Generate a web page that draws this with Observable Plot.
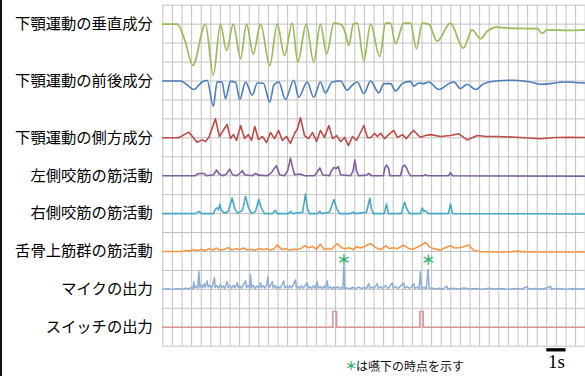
<!DOCTYPE html>
<html><head><meta charset="utf-8">
<script src="https://cdn.jsdelivr.net/npm/d3@7"></script>
<script src="https://cdn.jsdelivr.net/npm/@observablehq/plot@0.6"></script>
<style>
html,body{margin:0;padding:0;background:#fff;}
#wrap{position:relative;width:585px;height:376px;overflow:hidden;}
#edge{position:absolute;left:0;top:0;width:2px;height:376px;background:#111;}
</style></head>
<body><div id="wrap"><div id="edge"></div></div>
<script>
// Row labels and their baseline rows (grid rows from top)
const labels = ["下顎運動の垂直成分","下顎運動の前後成分","下顎運動の側方成分","左側咬筋の筋活動","右側咬筋の筋活動","舌骨上筋群の筋活動","マイクの出力","スイッチの出力"];
const baselines = [1, 4, 7, 9, 11, 13, 15, 17];
const colors = ["#9bbb59","#4a7ebb","#be4b48","#7d60a0","#46aac5","#f79646","#8eadd6","#d99694"];

// [time (s), amplitude (grid rows, up = positive)]
const vertical = [[0,0],[0.75,0],[1.15,-0.86],[1.56,-2.18],[2.22,0],[2.63,-2.69],[3.0,0],[3.32,-1.39],[3.67,0],[4.05,-1.83],[4.36,0],[4.71,-1.57],[5.09,0],[5.57,-2.18],[5.96,0],[6.34,-1.66],[6.74,0.05],[7.03,-2.0],[7.47,0],[7.86,-2.0],[8.21,0],[8.53,-1.57],[8.91,0.05],[9.26,0],[9.52,-0.5],[9.69,-1.13],[9.92,0],[10.13,0.05],[10.47,-1.93],[10.82,0],[11.30,-1.71],[11.6,0.05],[11.86,0.05],[12.12,-1.03],[12.55,0.05],[12.90,0.05],[13.21,-1.29],[13.51,0.05],[13.85,0],[14.29,-0.9],[14.98,0.05],[15.65,-1.27],[16.11,-0.3],[16.55,-0.77],[16.9,-0.37],[17.42,-0.16],[17.85,-0.2],[19.5,-0.24],[19.76,-0.48],[20.02,-0.3],[21.24,-0.33],[22.0,-0.3]];

const anteroposterior = [[0,0],[0.92,0],[1.23,-0.17],[1.61,-0.45],[2.05,-0.05],[2.31,0.04],[2.63,-1.33],[2.83,-0.05],[3.09,-0.05],[3.26,-0.93],[3.53,-0.02],[3.79,-0.07],[4.01,-0.98],[4.31,-0.05],[4.66,-0.75],[4.92,-0.11],[5.24,-0.12],[5.57,-1.12],[5.78,-0.23],[6.04,-0.05],[6.39,-0.98],[6.82,0.04],[7.08,-0.86],[7.52,-0.05],[7.86,-0.86],[8.21,-0.05],[8.47,-0.63],[8.82,-0.05],[9.26,0],[9.6,-0.49],[9.86,-0.23],[10.13,-0.05],[10.47,-0.66],[10.82,0],[11.25,-0.63],[11.51,-0.14],[11.86,-0.14],[12.12,-0.53],[12.47,-0.14],[12.90,-0.02],[13.07,-0.28],[13.33,-0.11],[13.59,-0.14],[13.85,-0.05],[14.38,-0.45],[14.9,-0.14],[15.16,-0.05],[15.5,-0.4],[15.85,-0.17],[16.29,-0.45],[16.72,-0.14],[17.33,0],[18.28,0.04],[19.15,-0.05],[19.67,-0.17],[20.19,-0.14],[20.89,-0.05],[22.0,-0.11]];

const lateral = [[0,0],[0.83,0],[1.35,0.30],[1.79,-0.23],[2.05,-0.11],[2.22,-0.2],[2.40,0.03],[2.74,1.0],[2.95,0.07],[3.11,0.33],[3.35,0.70],[3.53,-0.04],[3.68,0.17],[3.84,-0.14],[4.05,0.65],[4.26,-0.04],[4.46,0.17],[4.62,-0.14],[4.79,0.6],[4.98,-0.09],[5.19,0.07],[5.40,-0.25],[5.61,0.28],[5.82,-0.04],[6.03,0.39],[6.23,-0.14],[6.44,0.07],[6.65,-0.3],[6.86,0.23],[7.02,0.49],[7.17,1.06],[7.38,0.12],[7.59,-0.04],[7.80,0.28],[8.01,-0.2],[8.21,0.39],[8.42,0.02],[8.65,0.65],[8.84,-0.04],[9.05,0.12],[9.26,-0.2],[9.47,0.02],[9.67,-0.41],[9.88,0.07],[10.09,-0.14],[10.30,0.28],[10.47,0.65],[10.66,0.02],[10.82,0],[11.03,0.23],[11.18,0.07],[11.34,0.24],[11.55,-0.04],[11.76,0.17],[12.03,0.39],[12.22,0.02],[12.48,0.17],[12.69,-0.04],[12.90,0.23],[13.07,0.39],[13.26,0.17],[13.42,0.03],[13.68,0.12],[13.94,0.17],[14.46,0.07],[14.98,0.12],[15.42,0.21],[15.85,-0.11],[16.38,0.12],[16.86,0.07],[17.42,0.07],[18.63,0.02],[19.67,-0.05],[20.45,0.02],[21.24,0.03],[22.0,0.02]];

const leftMasseter = [[0,0],[1.70,0],[1.81,0.1],[1.96,0.12],[2.14,0.12],[2.28,0],[2.64,0.05],[2.80,0.3],[2.95,0.08],[3.16,0],[3.32,0.1],[3.48,0.35],[3.63,0.05],[3.84,0],[3.99,0.1],[4.14,0.26],[4.26,0.05],[4.67,0],[4.83,0.12],[4.98,0.03],[5.45,0],[5.66,0.16],[5.78,0.35],[5.92,0.53],[6.08,0.05],[6.34,0],[6.5,0.26],[6.65,0.93],[6.75,0.48],[6.86,0.05],[7.17,0.09],[7.38,0],[7.90,0],[8.05,0.21],[8.18,0.41],[8.32,0.05],[8.68,0],[8.79,0.26],[8.91,0.44],[9.02,0.37],[9.14,0.48],[9.26,0.05],[9.78,0],[9.91,0.26],[10.0,0.83],[10.09,0.26],[10.20,0],[10.61,0.03],[10.73,0.12],[10.87,0],[11.49,0],[11.57,0.42],[11.65,0.56],[11.75,0.42],[11.83,0],[12.38,0],[12.49,0.48],[12.59,0.56],[12.69,0.42],[12.80,0.16],[12.90,0],[13.58,0],[13.68,0.05],[13.79,0],[14.88,0],[14.98,0.16],[15.09,0],[22.0,-0.03]];

const rightMasseter = [[0,0],[1.70,0],[1.88,0.12],[2.02,0],[2.64,0],[2.74,0.23],[2.83,0.3],[2.90,0.2],[2.97,0.48],[3.05,0.17],[3.21,0.02],[3.42,0.12],[3.61,0.82],[3.74,0.28],[3.89,0.02],[4.15,0.17],[4.31,0.91],[4.46,0.33],[4.62,0],[4.83,0.12],[5.0,0.74],[5.14,0.28],[5.30,0],[5.71,0],[5.86,0.17],[5.97,0],[6.55,0],[6.65,0.12],[6.76,0],[7.28,0.07],[7.43,1.03],[7.53,0.28],[7.64,0],[8.05,0],[8.18,0.12],[8.26,0],[8.68,0.07],[8.91,0.74],[9.05,0.28],[9.20,0],[9.78,0],[9.95,0.08],[10.04,0],[10.61,0.07],[10.78,0.82],[10.87,0.23],[10.97,0],[11.54,0],[11.65,0.51],[11.75,0],[12.43,0],[12.59,0.6],[12.72,0.23],[12.85,0],[13.42,0],[13.51,0.3],[13.6,0.12],[13.68,0.15],[13.84,0],[14.88,0],[14.98,0.51],[15.09,0],[22.0,-0.02]];

const suprahyoid = [[0,0],[1.0,0],[1.2,0.05],[1.4,0.02],[1.6,0.1],[1.8,0.04],[2.0,0.12],[2.2,0.05],[2.4,0.15],[2.6,0.08],[2.8,0.18],[3.0,0.06],[3.2,0.12],[3.4,0.2],[3.6,0.08],[3.8,0.14],[4.0,0.1],[4.2,0.18],[4.4,0.08],[4.6,0.12],[4.8,0.06],[5.0,0.16],[5.2,0.1],[5.4,0.14],[5.6,0.08],[5.8,0.15],[5.96,0.35],[6.2,0.1],[6.4,0.14],[6.6,0.08],[6.8,0.12],[7.0,0.1],[7.2,0.16],[7.4,0.3],[7.6,0.2],[7.8,0.26],[8.0,0.12],[8.21,0.39],[8.4,0.1],[8.6,0.16],[8.8,0.12],[9.08,0.42],[9.3,0.2],[9.5,0.14],[9.7,0.2],[9.9,0.1],[10.1,0.25],[10.3,0.18],[10.5,0.26],[10.82,0.42],[11.1,0.2],[11.34,0.1],[11.6,0.3],[11.8,0.16],[12.0,0.2],[12.2,0.14],[12.55,0.34],[12.8,0.16],[13.0,0.12],[13.2,0.2],[13.4,0.3],[13.68,0.48],[13.9,0.24],[14.1,0.15],[14.46,0.07],[14.7,0.2],[14.98,0.3],[15.2,0.18],[15.45,0.2],[15.7,0.26],[15.94,0.34],[16.2,0.05],[16.55,0.0],[17.0,-0.03],[18.0,-0.03],[18.5,0.02],[18.7,-0.02],[22,-0.03]];

const microphone = [[0,0],[0.3,0.03],[0.5,0],[0.8,0.04],[1.0,0.01],[1.2,0.06],[1.35,0.02],[1.5,0.1],[1.58,0.03],[1.61,0.4],[1.66,0.08],[1.75,0.18],[1.82,0.06],[1.88,0.93],[1.93,0.1],[2.0,0.25],[2.06,0.08],[2.15,0.3],[2.2,0.1],[2.31,0.45],[2.36,0.12],[2.45,0.22],[2.52,0.06],[2.6,0.2],[2.66,0.5],[2.69,0.61],[2.73,0.1],[2.82,0.2],[2.9,0.06],[3.0,0.25],[3.06,0.08],[3.15,0.18],[3.22,0.05],[3.35,0.4],[3.4,0.1],[3.5,0.2],[3.58,0.06],[3.7,0.22],[3.76,0.08],[3.88,0.35],[3.93,0.08],[4.02,0.18],[4.1,0.05],[4.2,0.25],[4.31,0.45],[4.36,0.1],[4.45,0.2],[4.52,0.06],[4.57,0.79],[4.62,0.08],[4.72,0.22],[4.8,0.05],[4.9,0.18],[5.0,0.08],[5.09,0.35],[5.14,0.08],[5.25,0.2],[5.32,0.06],[5.42,0.25],[5.47,0.65],[5.52,0.08],[5.6,0.18],[5.7,0.4],[5.75,0.08],[5.85,0.2],[5.92,0.05],[6.02,0.15],[6.1,0.06],[6.2,0.22],[6.3,0.45],[6.35,0.08],[6.45,0.18],[6.52,0.06],[6.62,0.2],[6.7,0.08],[6.8,0.25],[6.91,0.5],[6.96,0.08],[7.05,0.15],[7.12,0.05],[7.22,0.2],[7.3,0.06],[7.4,0.18],[7.52,0.35],[7.57,0.06],[7.66,0.15],[7.75,0.05],[7.85,0.2],[7.94,0.06],[8.04,0.4],[8.09,0.06],[8.2,0.15],[8.3,0.05],[8.4,0.18],[8.48,0.06],[8.56,0.45],[8.61,0.06],[8.72,0.15],[8.8,0.04],[8.9,0.12],[9.0,0.04],[9.1,0.15],[9.2,0.05],[9.3,0.1],[9.38,0.03],[9.43,1.23],[9.48,0.03],[9.6,0.08],[9.75,0.03],[9.9,0.1],[10.05,0.04],[10.2,0.12],[10.35,0.05],[10.5,0.1],[10.6,0.04],[10.73,0.3],[10.78,0.06],[10.9,0.12],[11.0,0.05],[11.17,0.3],[11.22,0.05],[11.35,0.15],[11.45,0.05],[11.6,0.2],[11.7,0.05],[11.8,0.12],[11.95,0.35],[12.0,0.06],[12.12,0.15],[12.25,0.05],[12.4,0.2],[12.55,0.33],[12.6,0.06],[12.72,0.15],[12.85,0.05],[12.95,0.12],[13.07,0.3],[13.12,0.06],[13.25,0.12],[13.35,0.04],[13.42,0.93],[13.47,0.05],[13.6,0.1],[13.72,0.04],[13.82,1.06],[13.87,0.04],[14.0,0.08],[14.2,0.02],[14.4,0.06],[14.6,0.02],[14.8,0.17],[14.85,0.02],[15.1,0.06],[15.4,0.02],[15.7,0.07],[16.0,0.02],[16.3,0.05],[16.6,0.01],[17.0,0.06],[17.3,0.02],[17.6,0.05],[18.0,0.01],[18.4,0.05],[18.7,0.02],[18.98,0.15],[19.03,0.02],[19.4,0.05],[19.8,0.02],[20.2,0.15],[20.25,0.02],[20.6,0.05],[21.0,0.01],[21.4,0.05],[21.7,0.02],[22,0.03]];

const switchOut = [[0,0],[8.85,0],[8.85,0.83],[9.05,0.83],[9.05,0],[13.39,0],[13.39,0.83],[13.56,0.83],[13.56,0],[22,0]];

// Swallow moments (s) marked with asterisks
const swallows = [9.43, 13.82];
const scaleBar = {start: 20, end: 21, label: "1s"};
const caption = "は嚥下の時点を示す";

const series = [vertical, anteroposterior, lateral, leftMasseter, rightMasseter, suprahyoid, microphone, switchOut];
const curves = ["monotone-x","monotone-x","linear","linear","linear","linear","linear","linear"];
const widths = [1.7, 1.6, 1.6, 1.6, 1.6, 1.6, 1.5, 1.6];

const marks = [
  Plot.ruleX(d3.range(0, 22.001, 0.5), {stroke: "#c2c2c2", strokeWidth: 1}),
  Plot.ruleY(d3.range(0, 18.001, 1), {stroke: "#c2c2c2", strokeWidth: 1}),
];
series.forEach((pts, i) => {
  marks.push(Plot.line(pts, {x: d => d[0], y: d => baselines[i] - d[1], stroke: colors[i], strokeWidth: widths[i], curve: curves[i]}));
});
marks.push(
  Plot.text(labels, {x: () => 0, y: (d, i) => baselines[i], text: d => d, textAnchor: "end", dx: -10, fontSize: 15.3, fill: "#000", fontFamily: "Noto Sans CJK JP"}),
  Plot.text(swallows, {x: d => d, y: () => 13.5, text: () => "＊", fill: "#2cb56a", fontSize: 14, fontWeight: "bold", fontFamily: "Noto Sans CJK JP"}),
  Plot.ruleY([18.19], {x1: scaleBar.start, x2: scaleBar.end, stroke: "#000", strokeWidth: 3.3}),
  Plot.text([scaleBar.label], {x: (scaleBar.start + scaleBar.end) / 2, y: () => 18.84, text: d => d, fontSize: 19, fill: "#000", fontFamily: "Liberation Serif"}),
  Plot.text(["＊"], {x: () => 9.8, y: () => 19.13, text: d => d, fill: "#2cb56a", fontSize: 12, fontWeight: "bold", fontFamily: "Noto Sans CJK JP"}),
  Plot.text([caption], {x: () => 10.06, y: () => 19.13, text: d => d, textAnchor: "start", fill: "#111", fontSize: 12, fontFamily: "Noto Sans CJK JP"})
);

const chart = Plot.plot({
  width: 585, height: 376,
  marginLeft: 162.3, marginRight: 0.3, marginTop: 4.7, marginBottom: 30.3,
  x: {domain: [0, 22], axis: null},
  y: {domain: [0, 18], reverse: true, axis: null},
  style: {background: "white", fontFamily: "Noto Sans CJK JP", overflow: "visible"},
  marks
});
document.getElementById("wrap").appendChild(chart);
</script>
</body></html>
